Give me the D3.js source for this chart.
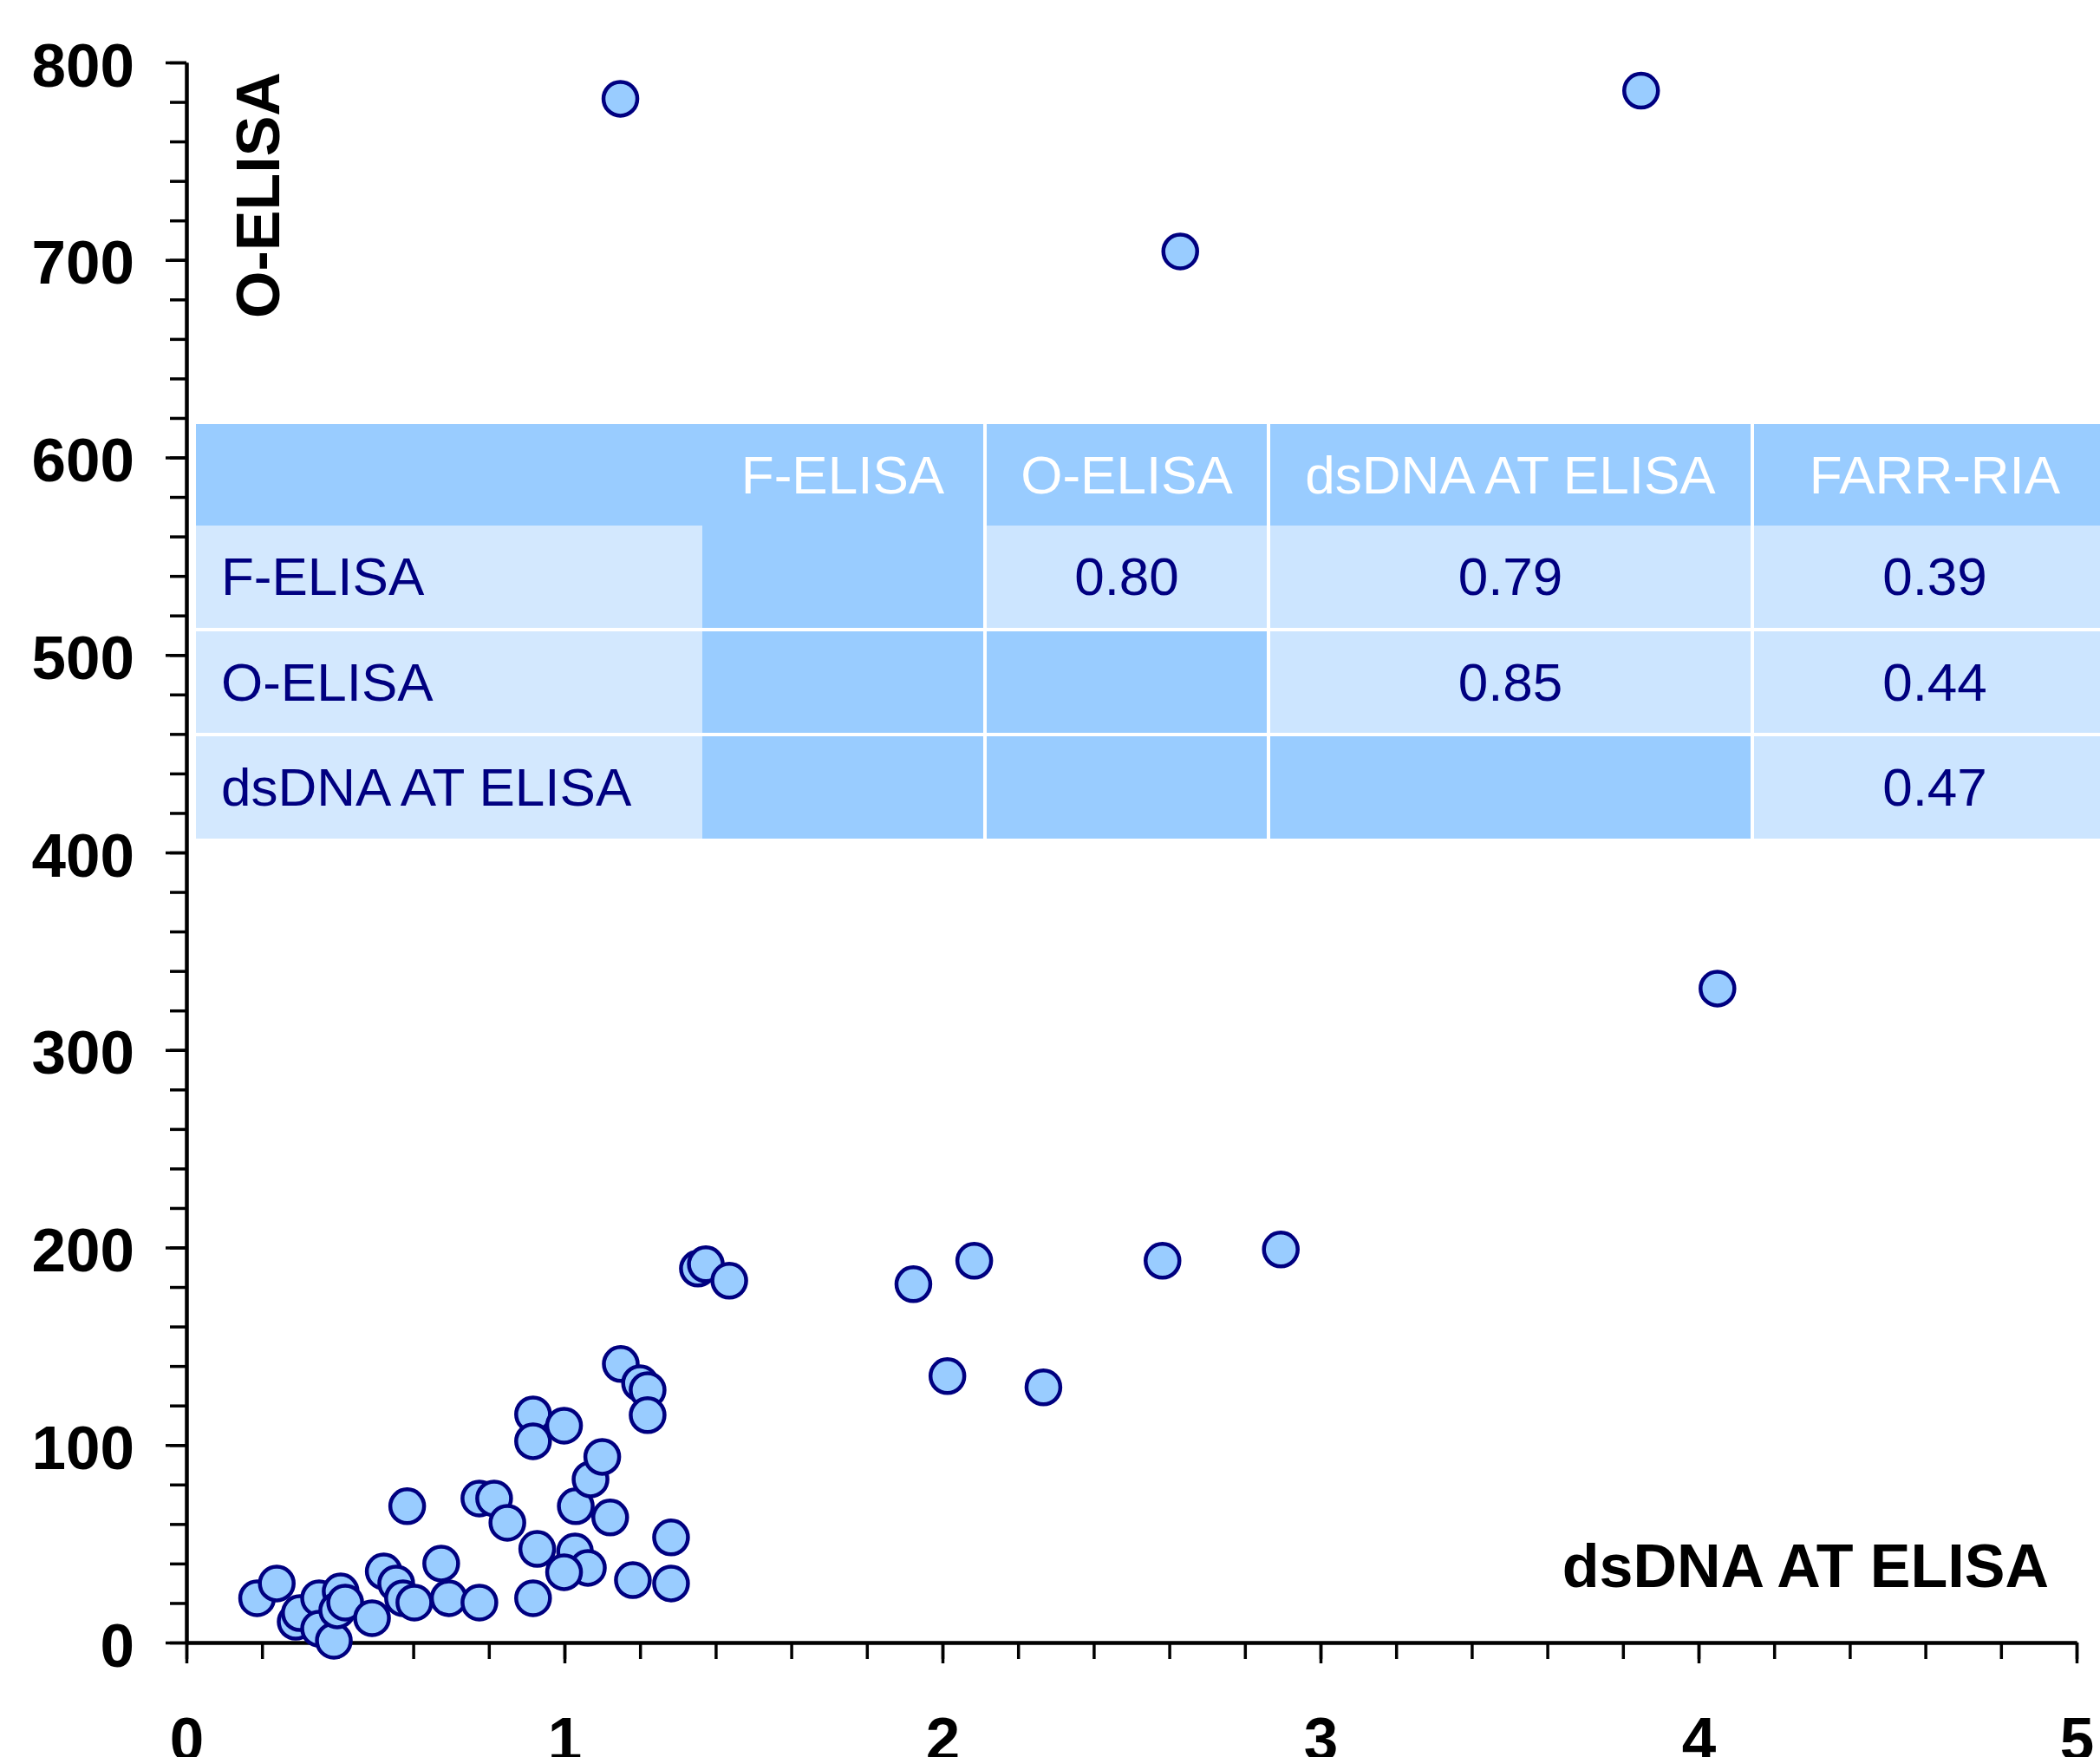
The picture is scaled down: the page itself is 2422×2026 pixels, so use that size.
<!DOCTYPE html>
<html lang="en">
<head>
    <meta charset="UTF-8">
    <script src="https://d3js.org/d3.v7.min.js"></script>
</head>
<style>
    body { margin: 0; background: #fff; }
    svg { display: block; font-family: 'Liberation Sans', Arial, sans-serif; }
    .axis path, .axis line { stroke: #000; }
    .axis path { stroke-width: 4px; }
    .axis line { stroke-width: 3.5px; }
    .axis text { font-size: 71px; font-weight: bold; fill: #000; }
    .dot { fill: #99ccff; stroke: #000080; stroke-width: 4.5px; }
    .cell text { font-size: 62px; }
</style>
<body>
<div class="chart"></div>
<script>
    // dsDNA AT ELISA (x) vs O-ELISA (y)
    const dsdna = [0.187, 0.239, 0.289, 0.300, 0.351, 0.351, 0.390, 0.408, 0.399, 0.420,
        0.491, 0.522, 0.555, 0.573, 0.603, 0.584, 0.674, 0.694, 0.775, 0.775,
        0.814, 0.849, 0.917, 0.928, 0.917, 0.917, 0.999, 1.030, 1.069, 1.100,
        1.121, 1.028, 1.062, 0.999, 1.181, 1.282, 1.282, 1.149, 1.200, 1.220,
        1.220, 1.353, 1.374, 1.436, 1.923, 2.084, 2.582, 2.895, 2.013, 2.267,
        1.148, 2.629, 3.848, 4.050]
    const oelisa = [22.4, 29.9, 10.5, 14.9, 22.4, 7.0, 0.9, 25.9, 16.3, 20.2,
        12.3, 36.0, 29.9, 22.4, 20.2, 69.0, 40.0, 22.4, 20.2, 72.9,
        72.9, 60.6, 22.4, 47.4, 115.5, 101.9, 109.8, 69.0, 82.6, 94.0,
        63.3, 46.1, 37.8, 35.6, 31.6, 53.2, 29.9, 141.0, 131.3, 127.8,
        115.1, 189.3, 191.5, 183.2, 181.4, 193.3, 193.3, 199.0, 134.9, 129.2,
        781.6, 704.3, 785.7, 331.1]

    const xTicks = [0, 1, 2, 3, 4, 5]
    const yTicks = [0, 100, 200, 300, 400, 500, 600, 700, 800]

    // correlation table
    const methods = ['F-ELISA', 'O-ELISA', 'dsDNA AT ELISA', 'FARR-RIA']
    const rowMethods = ['F-ELISA', 'O-ELISA', 'dsDNA AT ELISA']
    const correlations = [
        [null, '0.80', '0.79', '0.39'],
        [null, null, '0.85', '0.44'],
        [null, null, null, '0.47']
    ]

    const width = 2422, height = 2026

    const svg = d3.select('.chart').append('svg')
        .attr('width', width)
        .attr('height', height)

    const x = d3.scaleLinear().domain([0, 5]).range([215, 2395])
    const y = d3.scaleLinear().domain([0, 800]).range([1894, 72])

    // minor ticks first, then the labelled major ones
    svg.append('g')
        .attr('class', 'axis')
        .attr('transform', 'translate(0,' + y(0) + ')')
        .call(d3.axisBottom(x).tickValues(d3.range(0, 5.001, 0.2)).tickSize(19).tickFormat('').tickSizeOuter(0))
    svg.append('g')
        .attr('class', 'axis')
        .attr('transform', 'translate(0,' + y(0) + ')')
        .call(d3.axisBottom(x).tickValues(xTicks).tickSize(24).tickFormat(d3.format('d')).tickSizeOuter(0))
        .call(g => g.selectAll('text').attr('y', 136).attr('dy', 0))

    svg.append('g')
        .attr('class', 'axis')
        .attr('transform', 'translate(' + x(0) + ',0)')
        .call(d3.axisLeft(y).tickValues(d3.range(0, 801, 20)).tickSize(19).tickFormat('').tickSizeOuter(0))
    svg.append('g')
        .attr('class', 'axis')
        .attr('transform', 'translate(' + x(0) + ',0)')
        .call(d3.axisLeft(y).tickValues(yTicks).tickSize(24).tickFormat(d3.format('d')).tickSizeOuter(0))
        .call(g => g.selectAll('text').attr('x', -60).attr('dy', 27))

    svg.append('text')
        .attr('transform', 'translate(322,367) rotate(-90)')
        .style('font-size', '70px')
        .style('font-weight', 'bold')
        .text('O-ELISA')

    svg.append('text')
        .attr('x', 2363)
        .attr('y', 1830)
        .attr('text-anchor', 'end')
        .style('font-size', '70px')
        .style('font-weight', 'bold')
        .text('dsDNA AT ELISA')

    svg.selectAll('.dot')
        .data(dsdna.map((d, i) => [d, oelisa[i]]))
        .enter().append('circle')
        .attr('class', 'dot')
        .attr('cx', d => x(d[0]))
        .attr('cy', d => y(d[1]))
        .attr('r', 19.5)

    // table layout: label column + one column per method
    const colEdges = [226, 810, 1136, 1463, 2021, 2440]
    const rowEdges = [489, 606, 726, 847, 967]
    const gap = 2
    const table = svg.append('g').attr('class', 'cell')

    const cells = []
    for (let r = 0; r < 4; r++) {
        for (let c = 0; c < 5; c++) {
            const x0 = colEdges[c] + (c >= 2 ? gap : 0)
            const x1 = colEdges[c + 1] - (c >= 1 && c <= 3 ? gap : 0)
            const y0 = rowEdges[r] + (r >= 2 ? gap : 0)
            const y1 = rowEdges[r + 1] - (r >= 1 && r <= 2 ? gap : 0)
            let fill = '#99ccff', text = null, color = '#000080', anchor = 'middle'
            if (r === 0) {
                if (c > 0) { text = methods[c - 1]; color = '#fff' }
            } else if (c === 0) {
                fill = '#d3e8fe'; text = rowMethods[r - 1]; anchor = 'start'
            } else if (correlations[r - 1][c - 1] !== null) {
                fill = '#cce5ff'; text = correlations[r - 1][c - 1]
            }
            cells.push({x0, x1, y0, y1, fill, text, color, anchor})
        }
    }

    table.selectAll('rect')
        .data(cells)
        .enter().append('rect')
        .attr('x', d => d.x0)
        .attr('y', d => d.y0)
        .attr('width', d => d.x1 - d.x0)
        .attr('height', d => d.y1 - d.y0)
        .attr('fill', d => d.fill)

    table.selectAll('text')
        .data(cells.filter(d => d.text))
        .enter().append('text')
        .attr('x', d => d.anchor === 'start' ? 255 : (d.x0 + d.x1) / 2)
        .attr('y', d => (d.y0 + d.y1) / 2 + 21)
        .attr('text-anchor', d => d.anchor)
        .attr('fill', d => d.color)
        .text(d => d.text)
</script>
</body>
</html>
